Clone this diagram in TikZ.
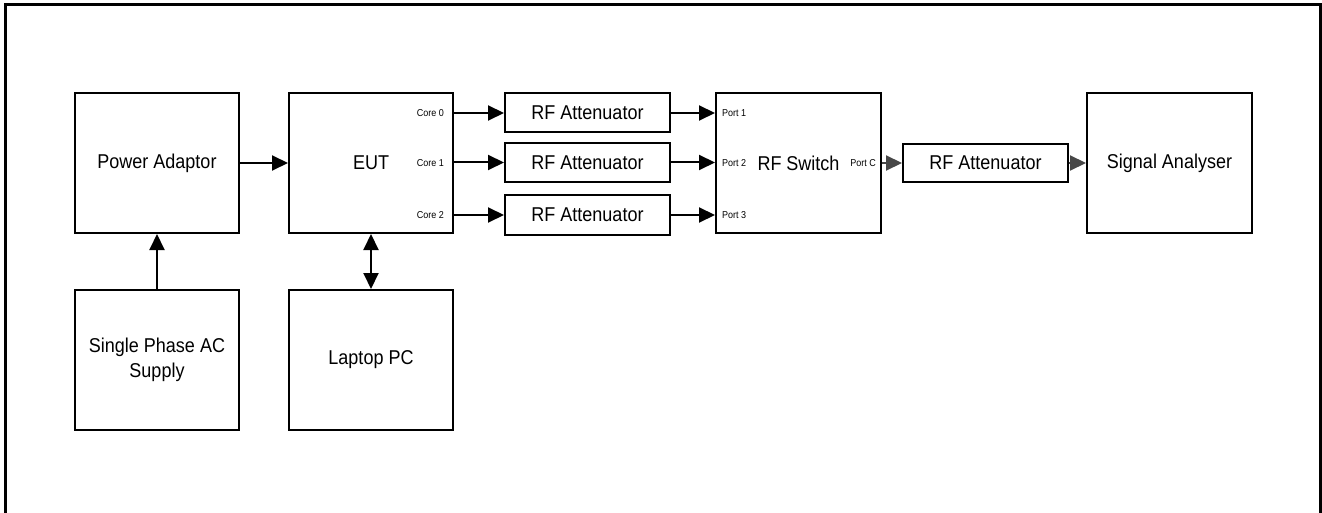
\documentclass[tikz,border=0pt]{standalone}
\usepackage{fontspec}
\setmainfont{Liberation Sans}[FakeStretch=0.9]
\usetikzlibrary{arrows.meta}
\tikzset{
  blk/.style={draw=black, line width=2pt, rectangle, inner sep=0pt, align=center,
    font=\fontsize{20}{25}\selectfont},
  bigbox/.style={blk, minimum width=164pt, minimum height=140pt},
  attbox/.style={blk, minimum width=165pt, minimum height=39pt},
  lbl/.style={font=\fontsize{10}{12}\selectfont, inner sep=0pt},
  conn/.style={line width=2pt, -{Triangle[length=16pt,width=15pt]}},
  gconn/.style={line width=2pt, draw=black!72, -{Triangle[length=16pt,width=15pt]}},
  biconn/.style={line width=2pt, {Triangle[length=16pt,width=15pt]}-{Triangle[length=16pt,width=15pt]}},
  frame/.style={line width=3pt, draw=black}
}
\begin{document}
\begin{tikzpicture}[x=1pt,y=-1pt]
\useasboundingbox (0,0) rectangle (1322,513);
\draw[frame] (5.5,520) -- (5.5,4.5) -- (1320,4.5) -- (1320,520);

\node[bigbox] (pa) at (157,163) {Power Adaptor};
\node[bigbox] (eut) at (371,163) {EUT};
\node[bigbox] (ac) at (157,360) {Single Phase AC\\Supply};
\node[bigbox] (pc) at (371,360) {Laptop PC};
\node[attbox] (a1) at (587.5,113) {RF Attenuator};
\node[attbox] (a2) at (587.5,162.5) {RF Attenuator};
\node[attbox] (a3) at (587.5,215) {RF Attenuator};
\node[bigbox, minimum width=165pt] (sw) at (798.5,163) {RF Switch};
\node[attbox, minimum height=38pt] (a4) at (985.5,163) {RF Attenuator};
\node[bigbox, minimum width=165pt] (sa) at (1169.5,163) {Signal Analyser};

\node[lbl, anchor=east] (c0) at (444,113) {Core 0};
\node[lbl, anchor=east] (c1) at (444,163) {Core 1};
\node[lbl, anchor=east] (c2) at (444,215) {Core 2};
\node[lbl, anchor=west] (p1) at (722,113) {Port 1};
\node[lbl, anchor=west] (p2) at (722,163) {Port 2};
\node[lbl, anchor=west] (p3) at (722,215) {Port 3};
\node[lbl, anchor=east] (pcc) at (876,163) {Port C};

\draw[conn] (pa.east) -- (eut.west);
\draw[conn] (ac.north) -- (pa.south);
\draw[biconn] (eut.south) -- (pc.north);
\draw[conn] (eut.east |- a1.west) -- (a1.west);
\draw[conn] (eut.east |- a2.west) -- (a2.west);
\draw[conn] (eut.east |- a3.west) -- (a3.west);
\draw[conn] (a1.east) -- (sw.west |- a1.east);
\draw[conn] (a2.east) -- (sw.west |- a2.east);
\draw[conn] (a3.east) -- (sw.west |- a3.east);
\draw[gconn] (sw.east) -- (a4.west);
\draw[gconn] (a4.east) -- (sa.west);
\end{tikzpicture}
\end{document}
